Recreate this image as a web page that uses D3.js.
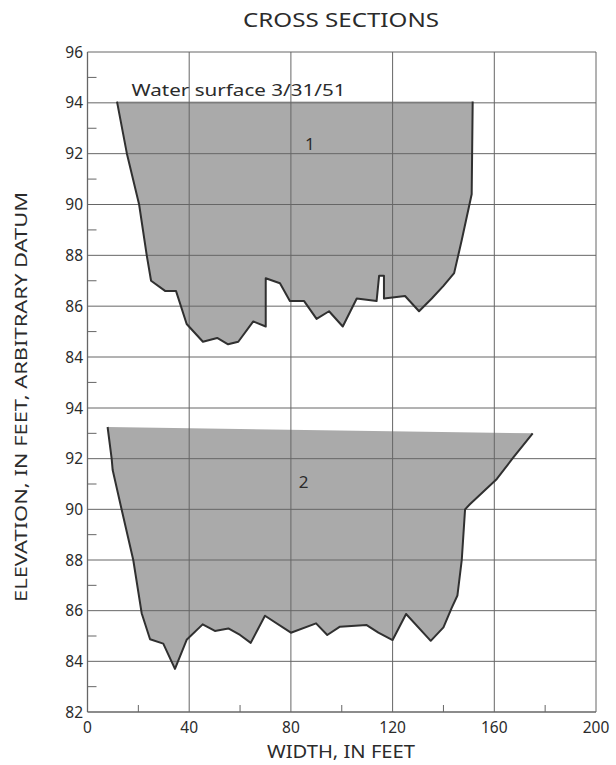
<!DOCTYPE html>
<html>
<head>
<meta charset="utf-8">
<script src="https://cdn.jsdelivr.net/npm/d3@7"></script>
<style>
  html, body { margin: 0; padding: 0; background: #fff; }
  text { font-family: "Noto Sans", "DejaVu Sans", sans-serif; fill: #2b2b2b; }
</style>
</head>
<body>
<svg id="chart" width="616" height="765"></svg>
<script>
// ---- Data ----
const xTicks = [0, 40, 80, 120, 160, 200];
const xMinorTicks = [20, 60, 100, 140, 180];
const upperYTicks = [84, 86, 88, 90, 92, 94, 96];
const lowerYTicks = [82, 84, 86, 88, 90, 92, 94];

// Section 1: bed profile (bank to bank), width (ft), elevation (ft)
const sec1Width = [11.6, 15.5, 20.3, 23.3, 25.0, 30.5, 34.8, 39.0, 45.4, 51.0, 55.3, 59.3, 65.2, 70.1, 70.1, 75.7, 79.6, 85.2, 90.1, 95.0, 100.4, 105.9, 113.7, 114.7, 116.6, 116.6, 124.9, 130.4, 135.4, 140.0, 144.2, 147.2, 151.1, 151.5];
const sec1Elev  = [94.05, 92.0, 90.0, 88.0, 87.0, 86.6, 86.6, 85.3, 84.6, 84.75, 84.5, 84.6, 85.4, 85.2, 87.1, 86.9, 86.2, 86.2, 85.5, 85.8, 85.2, 86.3, 86.2, 87.2, 87.2, 86.3, 86.4, 85.8, 86.3, 86.8, 87.3, 88.6, 90.4, 94.05];

// Section 2: bed profile (bank to bank)
const sec2Width = [7.9, 9.5, 9.9, 13.4, 18.0, 21.3, 24.6, 29.8, 34.4, 39.0, 45.3, 50.1, 55.4, 60.0, 64.2, 69.8, 80.0, 89.9, 94.3, 99.3, 109.8, 114.4, 120.0, 125.3, 135.0, 140.0, 143.2, 145.5, 147.2, 148.5, 150.4, 161.0, 167.5, 175.1];
const sec2Elev  = [93.25, 92.0, 91.55, 90.0, 88.0, 85.9, 84.87, 84.7, 83.7, 84.85, 85.46, 85.2, 85.3, 85.04, 84.73, 85.8, 85.13, 85.5, 85.04, 85.37, 85.43, 85.13, 84.84, 85.87, 84.81, 85.34, 86.1, 86.6, 88.0, 90.0, 90.2, 91.2, 92.05, 93.0];

const sectionLabels = ["1", "2"];
const sectionLabelPos = [[87.5, 92.4], [85, 91.1]];
const waterNote = "Water surface 3/31/51";

// ---- Layout ----
const svg = d3.select("#chart");
const left = 87.5, right = 596;
const x = d3.scaleLinear().domain([0, 200]).range([left, right]);
const yU = d3.scaleLinear().domain([84, 96]).range([357, 52]);
const yL = d3.scaleLinear().domain([82, 94]).range([712, 408]);

const fillCol = "#aaaaaa";
const lineCol = "#303030";
const gridCol = "#666";

// ---- Fills ----
function drawSection(widths, elevs, y) {
  const pts = widths.map((w, i) => [x(w), y(elevs[i])]);
  svg.append("path")
    .attr("d", d3.line()(pts) + "Z")
    .attr("fill", fillCol)
    .attr("stroke", "none");
  return pts;
}
const p1 = drawSection(sec1Width, sec1Elev, yU);
const p2 = drawSection(sec2Width, sec2Elev, yL);

// ---- Grid ----
const g = svg.append("g");
xTicks.forEach(t => {
  g.append("line").attr("x1", x(t)).attr("x2", x(t)).attr("y1", 52).attr("y2", 712)
    .attr("stroke", gridCol).attr("stroke-width", t === 0 ? 1.3 : 1);
});
upperYTicks.forEach(t => {
  g.append("line").attr("x1", left).attr("x2", right).attr("y1", yU(t)).attr("y2", yU(t))
    .attr("stroke", gridCol).attr("stroke-width", 1);
});
lowerYTicks.forEach(t => {
  g.append("line").attr("x1", left).attr("x2", right).attr("y1", yL(t)).attr("y2", yL(t))
    .attr("stroke", gridCol).attr("stroke-width", t === 82 ? 1.3 : 1);
});
xMinorTicks.forEach(t => {
  g.append("line").attr("x1", x(t)).attr("x2", x(t)).attr("y1", 712).attr("y2", 705)
    .attr("stroke", gridCol).attr("stroke-width", 1);
});
const upMinor = d3.range(83, 96, 2);
const lowMinor = d3.range(83, 94, 2);
upMinor.forEach(t => {
  g.append("line").attr("x1", left).attr("x2", left + 9).attr("y1", yU(t)).attr("y2", yU(t))
    .attr("stroke", gridCol).attr("stroke-width", 1);
});
lowMinor.forEach(t => {
  g.append("line").attr("x1", left).attr("x2", left + 9).attr("y1", yL(t)).attr("y2", yL(t))
    .attr("stroke", gridCol).attr("stroke-width", 1);
});

// ---- Bed outlines ----
[p1, p2].forEach(pts => {
  svg.append("path").attr("d", d3.line()(pts))
    .attr("fill", "none").attr("stroke", lineCol).attr("stroke-width", 2)
    .attr("stroke-linejoin", "round");
});

// ---- Axis labels ----
upperYTicks.forEach(t => {
  svg.append("text").attr("x", 83).attr("y", yU(t)).attr("dy", "0.36em")
    .attr("text-anchor", "end").attr("font-size", 15.5).text(t);
});
lowerYTicks.forEach(t => {
  svg.append("text").attr("x", 83).attr("y", yL(t)).attr("dy", "0.36em")
    .attr("text-anchor", "end").attr("font-size", 15.5).text(t);
});
xTicks.forEach(t => {
  svg.append("text").attr("x", x(t)).attr("y", 733)
    .attr("text-anchor", "middle").attr("font-size", 15.5).text(t);
});

// titles
svg.append("text").attr("x", 243).attr("y", 27)
  .attr("font-size", 20.5).attr("textLength", 196).attr("lengthAdjust", "spacingAndGlyphs")
  .text("CROSS  SECTIONS");
svg.append("text").attr("x", 267).attr("y", 758)
  .attr("font-size", 17.5).attr("textLength", 148).attr("lengthAdjust", "spacingAndGlyphs")
  .text("WIDTH, IN  FEET");
svg.append("text").attr("transform", "translate(27,602) rotate(-90)")
  .attr("font-size", 17).attr("textLength", 410).attr("lengthAdjust", "spacingAndGlyphs")
  .text("ELEVATION, IN  FEET, ARBITRARY  DATUM");

// annotations
svg.append("text").attr("x", 131.5).attr("y", 96).attr("font-size", 16)
  .attr("textLength", 214).attr("lengthAdjust", "spacingAndGlyphs").text(waterNote);
svg.append("text").attr("x", x(sectionLabelPos[0][0])).attr("y", yU(sectionLabelPos[0][1]))
  .attr("text-anchor", "middle").attr("dy", "0.36em").attr("font-size", 17).text(sectionLabels[0]);
svg.append("text").attr("x", x(sectionLabelPos[1][0])).attr("y", yL(sectionLabelPos[1][1]))
  .attr("text-anchor", "middle").attr("dy", "0.36em").attr("font-size", 17).text(sectionLabels[1]);
</script>
</body>
</html>
